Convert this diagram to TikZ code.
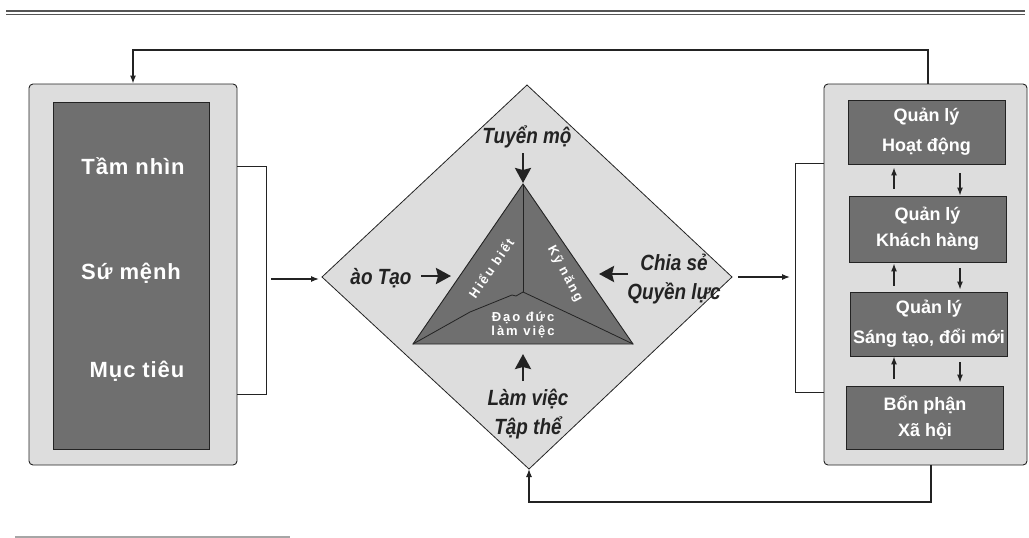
\documentclass[tikz,border=0pt]{standalone}
\usepackage{fontspec}
\setmainfont{Liberation Sans}
\newfontfamily\labfont[FakeStretch=0.86]{Liberation Sans}
\newfontfamily\boxfont[LetterSpace=4]{Liberation Sans}
\newfontfamily\trifont[LetterSpace=15]{Liberation Sans}
\usetikzlibrary{arrows.meta, positioning, calc}
\definecolor{panel}{RGB}{221,221,221}
\definecolor{block}{RGB}{111,111,111}
\definecolor{edge}{RGB}{35,35,35}
\definecolor{rule}{RGB}{85,85,85}

\begin{document}
\begin{tikzpicture}[x=1pt,y=-1pt,
	panelbox/.style={draw=edge,fill=panel,rounded corners=4pt,line width=0.9pt,inner sep=0pt},
	blockbox/.style={draw=edge,fill=block,line width=0.9pt,inner sep=0pt},
	sidetxt/.style={text=white,font=\boxfont\bfseries\fontsize{22}{26}\selectfont},
	steptxt/.style={text=white,align=center,font=\bfseries\fontsize{18}{30}\selectfont},
	diamtxt/.style={align=center,text=edge,font=\labfont\bfseries\itshape\fontsize{22}{29}\selectfont},
	tritxt/.style={text=white,align=center,inner sep=0pt,font=\trifont\bfseries\fontsize{13}{14}\selectfont},
	flow/.style={line width=1.2pt,draw=edge,-{Latex[length=8pt,width=6pt]}},
	plain/.style={line width=1.2pt,draw=edge},
	bigarrow/.style={line width=2.6pt,draw=edge,-{Stealth[length=15pt,width=16pt,inset=2pt]}}]
	\useasboundingbox (0,0) rectangle (1029,538);
	% page rules
	\draw[rule,line width=1.3pt] (6,11) -- (1025,11);
	\draw[rule,line width=1.3pt] (6,14.5) -- (1025,14.5);
	\draw[gray!70,line width=1.5pt] (15,537) -- (290,537);
	% left panel
	\node[panelbox,minimum width=208,minimum height=381] (lp) at (133,274.5) {};
	\node[blockbox,minimum width=156,minimum height=347] (lb) at (131,275.5) {};
	\node[sidetxt] (tam) at (133,166) {Tầm nhìn};
	\node[sidetxt] (su) at (131,273) {Sứ mệnh};
	\node[sidetxt] (muc) at (137,371) {Mục tiêu};
	% right panel
	\node[panelbox,minimum width=203,minimum height=381] (rp) at (925.5,274.5) {};
	\node[blockbox,minimum width=157,minimum height=64] (q1) at (926.5,132) {};
	\node[blockbox,minimum width=157,minimum height=66] (q2) at (927.5,229) {};
	\node[blockbox,minimum width=157,minimum height=64] (q3) at (929,324) {};
	\node[blockbox,minimum width=157,minimum height=63] (q4) at (925,417.5) {};
	\node[steptxt] at (q1) {Quản lý\\Hoạt động};
	\node[steptxt] at (q2) {Quản lý\\[-4pt]Khách hàng};
	\node[steptxt] at (q3) {Quản lý\\Sáng tạo, đổi mới};
	\node[steptxt] at (q4) {Bổn phận\\[-4pt]Xã hội};
	\coordinate (upx) at (894,0);
	\coordinate (dnx) at (960,0);
	\draw[flow,shorten <=7pt,shorten >=3pt] (q2.north -| upx) -- (q1.south -| upx);
	\draw[flow,shorten <=9pt] (q1.south -| dnx) -- (q2.north -| dnx);
	\draw[flow,shorten <=6pt,shorten >=1pt] (q3.north -| upx) -- (q2.south -| upx);
	\draw[flow,shorten <=6pt,shorten >=2pt] (q2.south -| dnx) -- (q3.north -| dnx);
	\draw[flow,shorten <=7pt,shorten >=0pt] (q4.north -| upx) -- (q3.south -| upx);
	\draw[flow,shorten <=6pt,shorten >=3pt] (q3.south -| dnx) -- (q4.north -| dnx);
	% diamond
	\coordinate (dT) at (527,85);
	\coordinate (dL) at (322,277);
	\coordinate (dR) at (732,277);
	\coordinate (dB) at (529,469);
	\draw[edge,fill=panel,line width=0.8pt] (dL) -- (dT) -- (dR) -- (dB) -- cycle;
	% triangle
	\coordinate (tA) at (523,184);
	\coordinate (tL) at (413,344);
	\coordinate (tR) at (633,344);
	\coordinate (tC) at (523,292);
	\draw[edge,fill=block,line width=0.9pt] (tA) -- (tR) -- (tL) -- cycle;
	\draw[edge,line width=0.8pt] (tA) -- (tC);
	\draw[edge,line width=0.8pt] (tC) -- (516,296) -- (512,295) -- (470,312) -- (tL);
	\draw[edge,line width=0.8pt] (tC) -- (587,322) -- (tR);
	\node[tritxt,rotate=55] (hieu) at (491,268) {Hiểu biết};
	\node[tritxt,rotate=-62] (ky) at (565,274) {Kỹ năng};
	\node[tritxt,font=\trifont\bfseries\fontsize{13}{14}\selectfont] (dao) at (523,325) {Đạo đức\\làm việc};
	% diamond labels
	\node[diamtxt,anchor=base] (tuyen) at (527,143) {Tuyển mộ};
	\node[diamtxt,anchor=base east] (dao2) at (415,284) {ào Tạo};
	\node[diamtxt] (chia) at (674,279) {Chia sẻ\\Quyền lực};
	\node[diamtxt] (lam) at (528,414) {Làm việc\\Tập thể};
	\coordinate (aT0) at (523,153);
	\coordinate (aT1) at (523,183);
	\coordinate (aL0) at (421,276);
	\coordinate (aL1) at (451,276);
	\coordinate (aR0) at (628,274);
	\coordinate (aR1) at (599,274);
	\coordinate (aB0) at (523,381);
	\coordinate (aB1) at (523,354);
	\draw[bigarrow] (aT0) -- (aT1);
	\draw[bigarrow] (aL0) -- (aL1);
	\draw[bigarrow] (aR0) -- (aR1);
	\draw[bigarrow] (aB0) -- (aB1);
	% links between panels
	\draw[plain] ($(lp.north east)+(0,83)$) -- ++(29,0) |- ($(lp.south east)+(0,-71)$);
	\draw[plain] ($(rp.north west)+(0,80)$) -- ++(-28,0) |- ($(rp.south west)+(0,-73)$);
	\draw[flow] ($(dL)+(-51,2)$) -- ($(dL)+(-3,2)$);
	\draw[flow] ($(dR)+(6,0)$) -- ($(dR)+(58,0)$);
	% feedback loops
	\coordinate (topline) at (0,50);
	\coordinate (botline) at (0,502);
	\draw[flow] ($(rp.north)+(2.5,0)$) |- (topline -| lp.north) -- (lp.north);
	\draw[flow] ($(rp.south)+(5.5,0)$) |- (botline -| dB) -- (dB);
\end{tikzpicture}
\end{document}
